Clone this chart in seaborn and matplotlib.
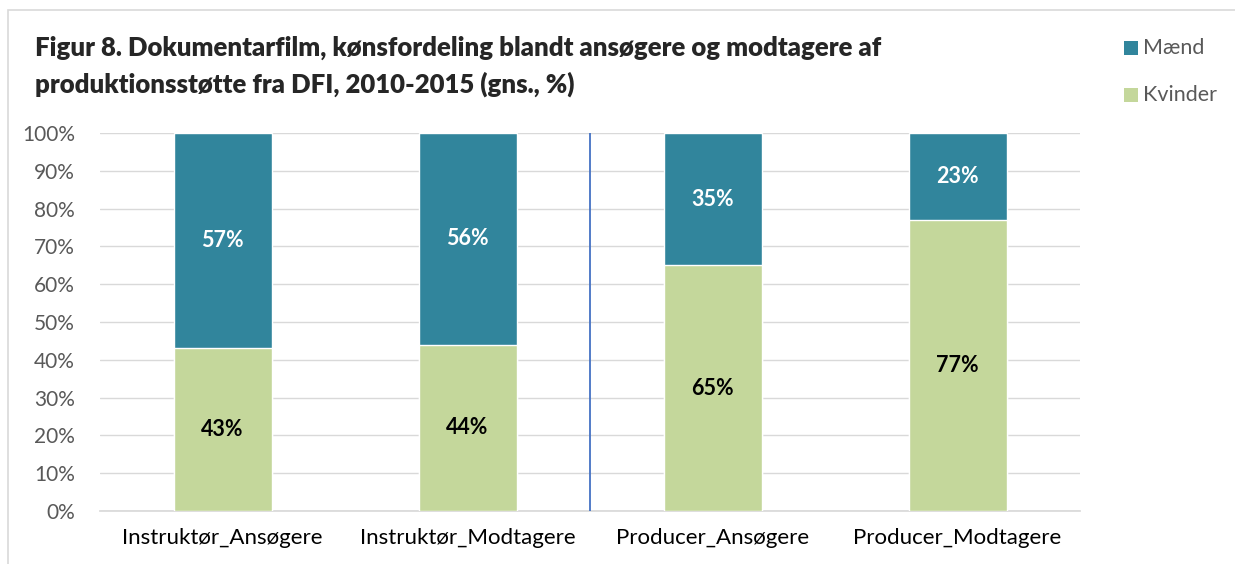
import numpy as np
import pandas as pd
import matplotlib.pyplot as plt
import seaborn as sns
from matplotlib.patches import Rectangle

categories = ["Instruktør_Ansøgere", "Instruktør_Modtagere", "Producer_Ansøgere", "Producer_Modtagere"]
kvinder = [43, 44, 65, 77]
maend = [57, 56, 35, 23]
yticks = list(range(0, 101, 10))

col_m = "#31859C"
col_k = "#C4D79B"

sns.set_theme(style="white")
plt.rcParams["font.family"] = ["Lato", "DejaVu Sans"]

df = pd.DataFrame({"cat": categories, "k": kvinder, "m": maend})
df["total"] = df["k"] + df["m"]

fig = plt.figure(figsize=(12.35, 5.64), dpi=100)
ax = fig.add_axes([100 / 1235, 1 - 511 / 564, 980 / 1235, 378 / 564])

sns.barplot(data=df, x="cat", y="total", color=col_m, width=0.4, saturation=1, ax=ax, zorder=2)
sns.barplot(data=df, x="cat", y="k", color=col_k, width=0.4, saturation=1, ax=ax, zorder=3)

for i, (k, m) in enumerate(zip(kvinder, maend)):
    ax.text(i, k / 2, f"{k}%", ha="center", va="center", fontsize=15.5, fontweight="bold", color="black", zorder=4)
    ax.text(i, k + m / 2, f"{m}%", ha="center", va="center", fontsize=15.5, fontweight="bold", color="white", zorder=4)

ax.axvline(1.5, color="#4472C4", lw=1.3, zorder=5)

ax.set_xlim(-0.5, 3.5)
ax.set_ylim(0, 100)
ax.set_yticks(yticks)
ax.set_yticklabels([f"{t}%" for t in yticks])
ax.yaxis.grid(True, color="#D9D9D9", lw=1, zorder=0)
ax.set_axisbelow(True)
ax.set_xlabel("")
ax.set_ylabel("")
for s in ["top", "right", "left"]:
    ax.spines[s].set_visible(False)
ax.spines["bottom"].set_color("#D9D9D9")
ax.tick_params(axis="both", colors="#595959", labelsize=15, length=0)
ax.tick_params(axis="x", labelcolor="black", labelsize=16, pad=12)
ax.tick_params(axis="y", pad=18)

fig.text(35 / 1235, 1 - 48 / 564, "Figur 8. Dokumentarfilm, kønsfordeling blandt ansøgere og modtagere af",
         fontsize=18.5, fontweight="heavy", va="center", ha="left")
fig.text(35 / 1235, 1 - 84 / 564, "produktionsstøtte fra DFI, 2010-2015 (gns., %)",
         fontsize=18.5, fontweight="heavy", va="center", ha="left")

# legend
for y, lab, c in [(48, "Mænd", col_m), (95, "Kvinder", col_k)]:
    fig.patches.append(Rectangle((1124 / 1235, 1 - (y + 7) / 564), 14 / 1235, 14 / 564,
                                 transform=fig.transFigure, facecolor=c, edgecolor="none"))
    fig.text(1143 / 1235, 1 - y / 564, lab, fontsize=15.5, color="#595959", va="center", ha="left")

# chart border
fig.patches.append(Rectangle((8 / 1235, -0.01), 1.1, 1 - 10 / 564 + 0.01, transform=fig.transFigure,
                             facecolor="none", edgecolor="#D9D9D9", lw=1.2))

fig.savefig("out.png", dpi=100)
